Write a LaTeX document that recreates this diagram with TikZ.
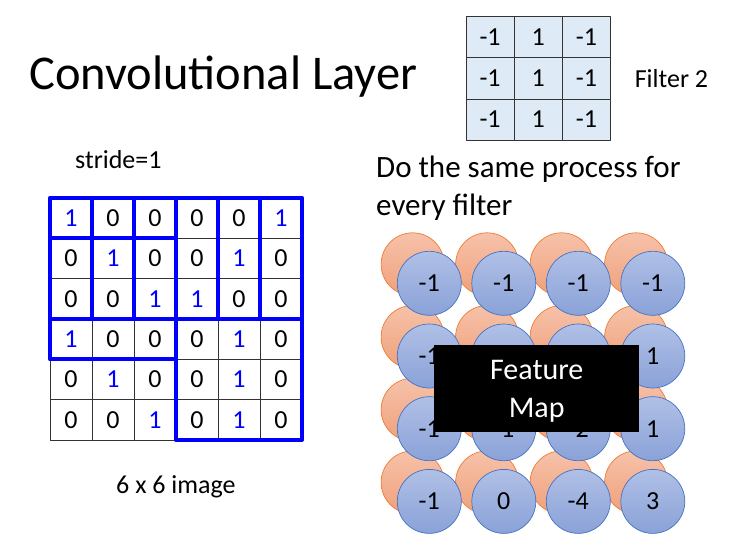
\documentclass[tikz,border=0pt]{standalone}
\usepackage{fontspec}
\setmainfont{Carlito}
\usetikzlibrary{positioning}
\definecolor{imgblue}{RGB}{0,0,255}
\definecolor{fltfill}{RGB}{222,235,247}
\definecolor{fmline}{RGB}{68,114,196}
\definecolor{fmtop}{RGB}{176,192,230}
\definecolor{fmbot}{RGB}{138,162,216}
\definecolor{foline}{RGB}{237,125,49}
\definecolor{fotop}{RGB}{246,194,170}
\definecolor{fobot}{RGB}{240,160,122}
\tikzset{
	cell/.style={draw=black!80, line width=.7pt, minimum width=42pt, minimum height=40.33pt, inner sep=0pt, outer sep=0pt},
	val0/.style={text=black}, val1/.style={text=imgblue},
	win/.style={draw=imgblue, line width=4.2pt},
	fcell/.style={draw=black!80, fill=fltfill, line width=.7pt, minimum width=48.2pt, minimum height=41.1pt, inner sep=0pt, outer sep=0pt},
	fmb/.style={circle, draw=fmline, top color=fmtop, bottom color=fmbot, minimum size=64pt, inner sep=0pt, line width=.7pt},
	fmo/.style={circle, draw=foline, top color=fotop, bottom color=fobot, minimum size=63pt, inner sep=0pt, line width=.7pt},
	label/.style={inner sep=0pt, font=\fontsize{26}{31}\selectfont}
}
\begin{document}
\begin{tikzpicture}[x=1pt, y=-1pt, font=\fontsize{26}{31}\selectfont, line join=round]
	\useasboundingbox (0,0) rectangle (743,548);
	\node[anchor=base west, inner sep=0pt, font=\fontsize{48.5}{58}\selectfont] (title) at (29,90) {Convolutional Layer};
	\foreach \row [count=\r] in {{1,0,0,0,0,1},{0,1,0,0,1,0},{0,0,1,1,0,0},{1,0,0,0,1,0},{0,1,0,0,1,0},{0,0,1,0,1,0}}
		\foreach \v [count=\c] in \row
			\node[cell, val\v] (img-\r-\c) at ({50+42*(\c-.5)},{198+40.33*(\r-.5)}) {\v};
	\foreach \a/\b in {1-1/3-3, 1-2/3-4, 1-3/3-5, 1-4/3-6, 2-1/4-3, 4-4/6-6}
		\draw[win] (img-\a.north west) rectangle (img-\b.south east);
	\node[label, anchor=base west] (stride) at (75,168) {stride=1};
	\node[label, anchor=base west] (size) at (116,493.3) {6 x 6 image};
	\foreach \row [count=\r] in {{-1,1,-1},{-1,1,-1},{-1,1,-1}}
		\foreach \v [count=\c] in \row
			\node[fcell] (flt-\r-\c) at ({466+48.2*(\c-.5)},{16.7+41.1*(\r-.5)}) {\v};
	\node[label, right=24pt of flt-2-3] (fname) {Filter 2};
	\node[anchor=north west, align=left, inner sep=0pt, font=\fontsize{31}{37.7}\selectfont] (note) at (376,156) {Do the same process for\\every filter};
	\foreach \r in {1,...,4}
		\foreach \c in {1,...,4}
			\node[fmo] (fo-\r-\c) at ({412.6+74.5*(\c-1)},{264.3+72.7*(\r-1)}) {};
	\foreach \row [count=\r] in {{-1,-1,-1,-1},{-1,{},{},1},{-1,-1,-2,1},{-1,0,-4,3}}
		\foreach \v [count=\c] in \row
			\node[fmb] (fm-\r-\c) at ({429.3+74.5*(\c-1)},{283.3+72.7*(\r-1)}) {\v};
	\node[fill=black, text=white, align=center, minimum width=205pt, minimum height=86.7pt, inner sep=0pt, font=\fontsize{30}{37.4}\selectfont] (fmap) at (536.7,388.3) {\rule{0pt}{25pt}Feature\\Map};
\end{tikzpicture}
\end{document}
